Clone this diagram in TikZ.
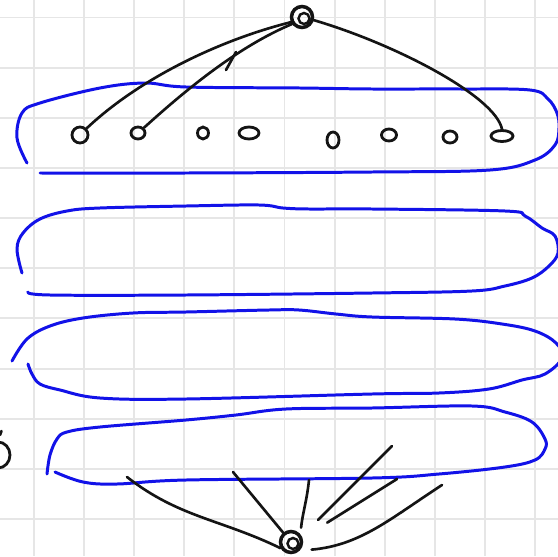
\documentclass[tikz,border=0pt]{standalone}
\usepackage{xcolor}
\usepackage{tikz}
\usetikzlibrary{shapes.geometric,calc}
\definecolor{skInk}{HTML}{141414}
\definecolor{skBlue}{HTML}{1212E8}
\definecolor{skGrid}{HTML}{E6E6E6}
\tikzset{
  % Sheet grid
  gridline/.style={draw=skGrid,line width=1.1pt},
  % Hand-drawn blue band
  lane/.style={draw=skBlue,line width=1.7pt,line cap=round,line join=round},
  % Black pen stroke
  inkline/.style={draw=skInk,line width=1.5pt,line cap=round},
  % Small leaf loop
  leaf/.style={ellipse,draw=skInk,line width=1.6pt,inner sep=0pt},
  % Scribbled hub
  hub/.style={circle,draw=skInk,line width=2pt,inner sep=0pt,minimum size=4.2mm,
    path picture={\draw[skInk,line width=1.4pt]
      ([xshift=0.4mm,yshift=-0.3mm]path picture bounding box.center) circle (1.1mm);}},
}
\begin{document}
\begin{tikzpicture}[x=0.02cm,y=0.02cm]
  \fill[white] (0,0) rectangle (558,556);
  \useasboundingbox (0,0) rectangle (558,556);

  % Grid
  \foreach \k in {0,...,10} {
    \draw[gridline] (34+50.1*\k,0) -- (34+50.1*\k,556);
    \draw[gridline] (0,538.5-50.15*\k) -- (558,538.5-50.15*\k);
  }

  % Bands
  \draw[lane] plot[smooth,tension=0.6] coordinates {(27,393) (17,418) (22,443) (40,453)
    (100,468) (145,473) (186,469) (300,468) (372,467) (460,467) (530,466) (548,457)
    (557,443) (559,428) (555,411) (535,396) (490,386) (372,384) (186,383) (40,383)};
  \draw[lane] plot[smooth,tension=0.6] coordinates {(22,283) (17,307) (23,323) (40,337)
    (67,345) (100,348) (186,350) (259,351) (283,348) (309,347) (372,347) (505,345)
    (525,340) (542,328) (555,320) (558,303) (549,290) (532,278) (505,270) (472,265)
    (372,263) (186,261) (50,261) (28,264)};
  \draw[lane] plot[smooth,tension=0.6] coordinates {(12,195) (27,217) (50,230) (83,238)
    (133,243) (186,244) (269,246) (299,246) (336,242) (372,239) (455,237) (502,232)
    (535,225) (556,213) (562,198) (545,182) (522,176) (489,167) (439,163) (372,162)
    (186,157) (100,158) (60,166) (40,172) (32,182) (28,192)};
  \draw[lane] plot[smooth,tension=0.6] coordinates {(47,82) (50,101) (57,117) (67,124)
    (100,129) (186,136) (236,141) (286,147) (372,148) (472,150) (505,144) (532,134)
    (545,117) (545,107) (535,96) (505,89) (439,82) (372,78) (186,76) (117,72) (83,74)
    (55,84)};

  % Top hub and leaves
  \node[hub] (root) at (302,539) {};
  \node[leaf,minimum width=3.2mm,minimum height=3.2mm] (l1) at (80,421) {};
  \node[leaf,minimum width=2.8mm,minimum height=2.4mm] (l2) at (138,423) {};
  \node[leaf,minimum width=2.2mm,minimum height=2.4mm] (l3) at (203,423) {};
  \node[leaf,minimum width=4.0mm,minimum height=2.4mm] (l4) at (249,423) {};
  \node[leaf,minimum width=2.4mm,minimum height=3.2mm] (l5) at (333,416) {};
  \node[leaf,minimum width=3.0mm,minimum height=2.4mm] (l6) at (389,421) {};
  \node[leaf,minimum width=2.8mm,minimum height=2.4mm] (l7) at (450,419) {};
  \node[leaf,minimum width=4.4mm,minimum height=2.2mm] (l8) at (502,420) {};
  \node[leaf,minimum width=4.8mm,minimum height=5.2mm] (cut) at (-2,101) {};
  \draw[inkline] (0,121) -- (1.5,125);

  \draw[inkline] (l1.north east) .. controls (140,478) and (220,516) .. (root.205);
  \draw[inkline] (l2.north east) .. controls (190,470) and (240,510) .. (root.215);
  \draw[inkline] (226,486) -- (236,504);
  \draw[inkline] (root.-15) .. controls (395,512) and (495,460) .. (l8.north);

  % Bottom hub and strokes
  \node[hub] (bot) at (291,14) {};
  \coordinate (ba) at (127,79);
  \coordinate (bb) at (233,84);
  \coordinate (bc) at (309,76);
  \coordinate (bd) at (392,110);
  \coordinate (be) at (397,77);
  \coordinate (bf) at (442,71);

  \draw[inkline] (bot.210) to[out=154,in=-38] (ba);
  \draw[inkline] (bot.130) -- (bb);
  \draw[inkline,shorten <=1.3mm] (bot.40) to[out=84,in=-96] (bc);
  \draw[inkline,shorten <=4.6mm] (bot.28) -- (bd);
  \draw[inkline,shorten <=5.8mm] (bot.19) -- (be);
  \draw[inkline,shorten <=2.4mm] (bot.-45) to[out=5,in=213] (bf);
\end{tikzpicture}
\end{document}
